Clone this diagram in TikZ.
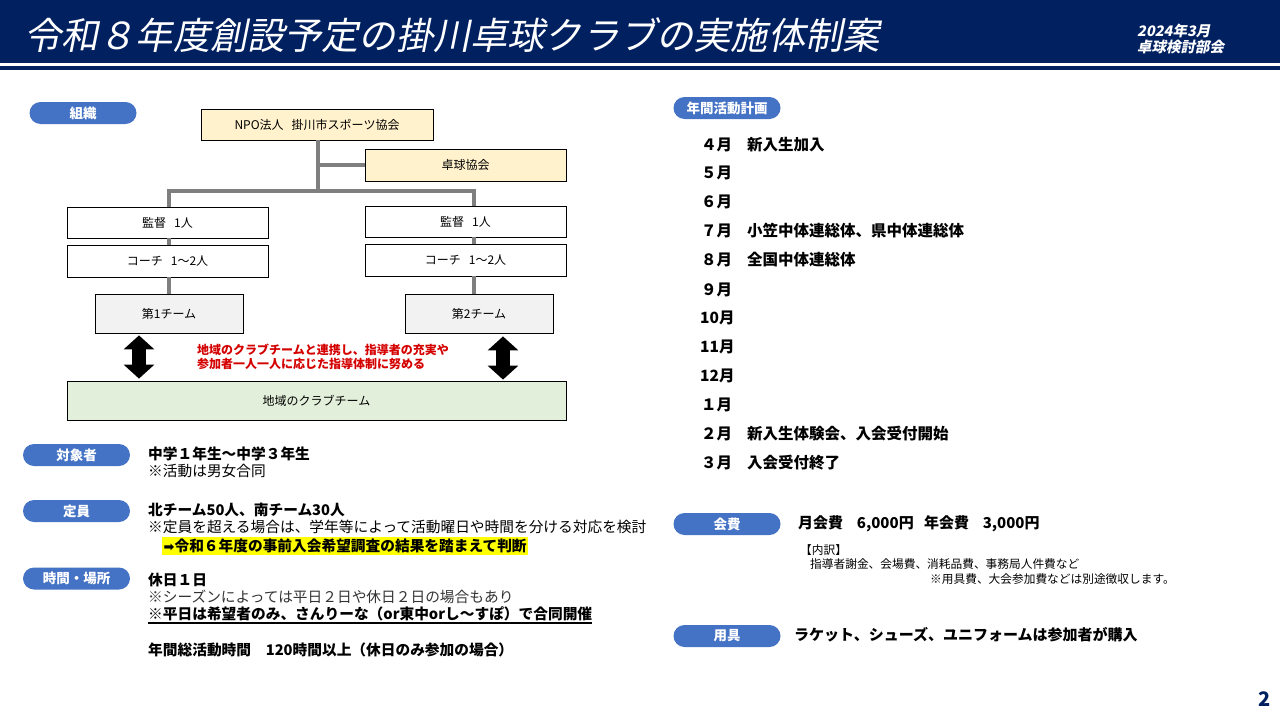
\documentclass[tikz,border=0pt]{standalone}
\usepackage{fontspec}
\setmainfont{Noto Sans CJK JP}
\newfontfamily\titlefont[FakeSlant=0.2]{Noto Sans CJK JP}
\newfontfamily\symfont{DejaVu Sans}
\usetikzlibrary{arrows.meta,calc}
\definecolor{navy}{HTML}{002060}
\definecolor{pillblue}{HTML}{4472C4}
\definecolor{orggray}{HTML}{7F7F7F}
\definecolor{boxyellow}{HTML}{FFF2CC}
\definecolor{boxgray}{HTML}{F2F2F2}
\definecolor{boxgreen}{HTML}{E2EFDA}
\definecolor{redtext}{HTML}{D40000}
\definecolor{hilite}{HTML}{FFFF00}
\tikzset{
  pill/.style={rounded corners=11pt, fill=pillblue, text=white, inner sep=0pt,
    font=\bfseries\fontsize{13.5}{15}\selectfont, minimum width=107pt, minimum height=22pt},
  orgbox/.style={draw=black, line width=0.8pt, fill=white, inner sep=0pt,
    font=\fontsize{12}{14}\selectfont, minimum width=201pt, minimum height=31pt},
  orgline/.style={draw=orggray, line width=4pt},
  dblarrow/.style={line width=14pt, {Triangle[width=30pt,length=14pt]}-{Triangle[width=30pt,length=14pt]}},
  body/.style={anchor=west, inner sep=0pt, font=\fontsize{14.7}{17}\selectfont},
  bodyb/.style={anchor=west, inner sep=0pt, font=\bfseries\fontsize{14.7}{17}\selectfont},
  month/.style={anchor=west, inner sep=0pt, font=\bfseries\fontsize{15.5}{18}\selectfont},
  small/.style={anchor=west, inner sep=0pt, font=\fontsize{11.7}{13}\selectfont},
}
\begin{document}
\begin{tikzpicture}[x=1pt,y=-1pt]
\useasboundingbox (0,0) rectangle (1280,720);
% header
\fill[navy] (0,0) rectangle (1280,63);
\fill[navy] (0,66) rectangle (1280,70);
\node[anchor=west, inner sep=0pt, text=white, font=\titlefont\fontsize{37.2}{40}\selectfont] (title) at (24,35) {令和８年度創設予定の掛川卓球クラブの実施体制案};
\node[anchor=west, inner sep=0pt, text=white, font=\titlefont\bfseries\fontsize{14.5}{16}\selectfont] (date) at (1137,31) {2024年3月};
\node[anchor=west, inner sep=0pt, text=white, font=\titlefont\bfseries\fontsize{14.5}{16}\selectfont] (dept) at (1137,47) {卓球検討部会};

% pills
\node[pill] (p1) at (83,113) {組織};
\node[pill] (p2) at (727,108) {年間活動計画};
\node[pill] (p3) at (76.5,455) {対象者};
\node[pill] (p4) at (76.5,511) {定員};
\node[pill] (p5) at (76.5,578.5) {時間・場所};
\node[pill] (p6) at (727,524) {会費};
\node[pill] (p7) at (727,636) {用具};

% org chart
\node[orgbox, fill=boxyellow, minimum width=232pt] (npo) at (317,124.5) {NPO法人\ \ \ 掛川市スポーツ協会};
\node[orgbox, fill=boxyellow, minimum height=32pt] (kyo) at (465.5,165) {卓球協会};
\node[orgbox] (k1) at (167.5,222.5) {監督\ \ \ 1人};
\node[orgbox, minimum height=32pt] (c1) at (167.5,261) {コーチ\ \ \ 1～2人};
\node[orgbox, fill=boxgray, minimum width=148pt, minimum height=39pt] (t1) at (169,313.5) {第1チーム};
\node[orgbox] (k2) at (465.5,221.5) {監督\ \ \ 1人};
\node[orgbox, minimum height=32pt] (c2) at (465.5,260) {コーチ\ \ \ 1～2人};
\node[orgbox, fill=boxgray, minimum width=148pt, minimum height=39pt] (t2) at (479,313.5) {第2チーム};
\node[orgbox, fill=boxgreen, minimum width=499pt, minimum height=39pt] (club) at (316.5,400.5) {地域のクラブチーム};

\coordinate (jm) at (318,191);
\coordinate (jl) at (169,191);
\coordinate (jr) at (474,191);
\draw[orgline] (npo.south -| jm) -- (jm);
\draw[orgline] (jm |- kyo.west) -- (kyo.west);
\draw[orgline, line cap=rect] (jl) -- (jr);
\draw[orgline] (jl) -- (jl |- k1.north);
\draw[orgline] (jl |- k1.south) -- (jl |- c1.north);
\draw[orgline] (jl |- c1.south) -- (jl |- t1.north);
\draw[orgline] (jr) -- (jr |- k2.north);
\draw[orgline] (jr |- k2.south) -- (jr |- c2.north);
\draw[orgline] (jr |- c2.south) -- (jr |- t2.north);

\draw[dblarrow] ($(t1.south)+(-30,2)$) -- ($(t1.south |- club.north)+(-30,-2)$);
\draw[dblarrow] ($(t2.south)+(24,3)$) -- ($(t2.south |- club.north)+(24,-1)$);

\node[anchor=north west, inner sep=0pt, align=left, text=redtext, font=\bfseries\fontsize{12}{14}\selectfont] (note) at (197,344) {地域のクラブチームと連携し、指導者の充実や\\参加者一人一人に応じた指導体制に努める};

% left column
\node[bodyb] (t_a1) at (148,454) {中学１年生～中学３年生};
\node[body] (t_a2) at (148,471) {※活動は男女合同};
\node[bodyb] (t_b1) at (148,510) {北チーム50人、南チーム30人};
\node[body] (t_b2) at (148,527) {※定員を超える場合は、学年等によって活動曜日や時間を分ける対応を検討};
\node[bodyb, fill=hilite, inner sep=1.5pt] (t_b3) at (162,546) {{\symfont\fontsize{13}{15}\selectfont ➡}令和６年度の事前入会希望調査の結果を踏まえて判断};
\node[bodyb] (t_c1) at (148,580) {休日１日};
\node[body, text=black!80] (t_c2) at (148,597) {※シーズンによっては平日２日や休日２日の場合もあり};
\node[bodyb] (t_c3) at (148,614) {※平日は希望者のみ、さんりーな（or東中orし～すぽ）で合同開催};
\draw[line width=1.3pt] ([yshift=-1.5pt]t_c3.south west) -- ([yshift=-1.5pt]t_c3.south east);
\node[bodyb] (t_c4) at (148,650) {年間総活動時間　120時間以上（休日のみ参加の場合）};

% right column: months
\node[month] (m4) at (701,145) {４月};
\node[month] (e4) at (747,145) {新入生加入};
\node[month] (m5) at (701,173) {５月};
\node[month] (m6) at (701,202) {６月};
\node[month] (m7) at (701,231) {７月};
\node[month] (e7) at (747,231) {小笠中体連総体、県中体連総体};
\node[month] (m8) at (701,260) {８月};
\node[month] (e8) at (747,260) {全国中体連総体};
\node[month] (m9) at (701,290) {９月};
\node[month] (m10) at (700,318) {10月};
\node[month] (m11) at (700,347) {11月};
\node[month] (m12) at (700,376) {12月};
\node[month] (m1) at (701,405) {１月};
\node[month] (m2) at (701,434) {２月};
\node[month] (e2) at (747,434) {新入生体験会、入会受付開始};
\node[month] (m3) at (701,463) {３月};
\node[month] (e3) at (747,463) {入会受付終了};

% fee
\node[anchor=west, inner sep=0pt, font=\bfseries\fontsize{15}{17}\selectfont] (fee) at (798,524) {月会費\ \ \ \ 6,000円\ \ \ 年会費\ \ \ \ 3,000円};
\node[small] (f1) at (800,550) {【内訳】};
\node[small] (f2) at (810,564) {指導者謝金、会場費、消耗品費、事務局人件費など};
\node[small] (f3) at (930,579) {※用具費、大会参加費などは別途徴収します。};

% equipment
\node[anchor=west, inner sep=0pt, font=\bfseries\fontsize{15}{17}\selectfont] (eq) at (794,635) {ラケット、シューズ、ユニフォームは参加者が購入};

% page number
\node[inner sep=0pt, text=navy, font=\bfseries\fontsize{20}{22}\selectfont] (pg) at (1265,699) {2};
\end{tikzpicture}
\end{document}
